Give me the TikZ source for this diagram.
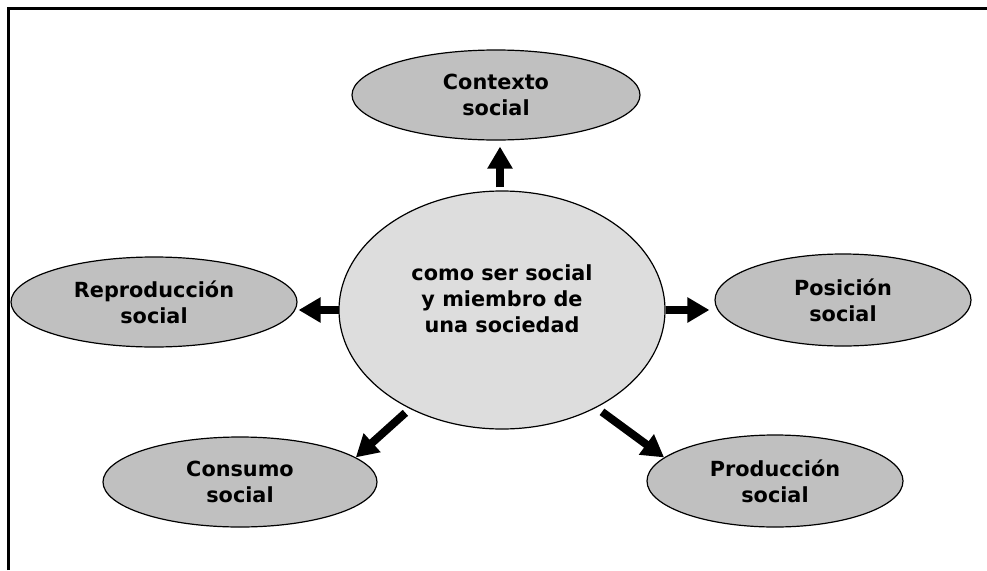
\documentclass[tikz,border=0pt]{standalone}
\usepackage{fontspec}
\setsansfont{DejaVu Sans}
\usepackage{tikz}
\usetikzlibrary{shapes.geometric,arrows.meta}

\definecolor{outerfill}{HTML}{C0C0C0}
\definecolor{hubfill}{HTML}{DDDDDD}

\begin{document}
\begin{tikzpicture}[
   x=1pt,y=-1pt,
   font=\sffamily\bfseries\fontsize{20.8}{26}\selectfont,
   topic/.style={ellipse,draw,line width=1.2pt,fill=outerfill,inner sep=0pt,align=center},
   hub/.style={ellipse,draw,line width=1.2pt,fill=hubfill,inner sep=0pt,
      minimum width=326pt,minimum height=238pt},
   to/.style={-{Triangle[width=24pt,length=22pt]},line width=8pt}]
\useasboundingbox (0,0) rectangle (987,570);
\draw[line width=3pt] (8,570) -- (8,8) -- (987,8);

\node[hub] (cen) at (502,310) {};
\node[align=center] (cenTxt) at ([yshift=11pt]cen.center) {como ser social\\y miembro de\\una sociedad};

\node[topic,minimum width=288pt,minimum height=90pt] (ctx) at (496,95) {Contexto\\social};
\node[topic,minimum width=286pt,minimum height=90pt] (rep) at (154,302) {Reproducción\\social};
\node[topic,minimum width=256pt,minimum height=92pt] (pos) at (843,300) {Posición\\social};
\node[topic,minimum width=274pt,minimum height=90pt] (con) at (240,482) {Consumo\\social};
\node[topic,minimum width=256pt,minimum height=92pt] (pro) at (775,481) {Producción\\social};

\draw[to,shorten <=3pt,shorten >=6pt] ([xshift=-2pt]cen.north) -- ([xshift=-2pt]cen.north |- ctx.south);
\draw[to,shorten <=-1pt,shorten >=1pt] (cen.west) -- (cen.west -| rep.east);
\draw[to,shorten >=5pt] (cen.east) -- (cen.east -| pos.west);
\draw[to,shorten <=6pt] (cen.227) -- (con.12);
\draw[to,shorten <=7pt] (cen.314) -- (pro.168);
\end{tikzpicture}
\end{document}
